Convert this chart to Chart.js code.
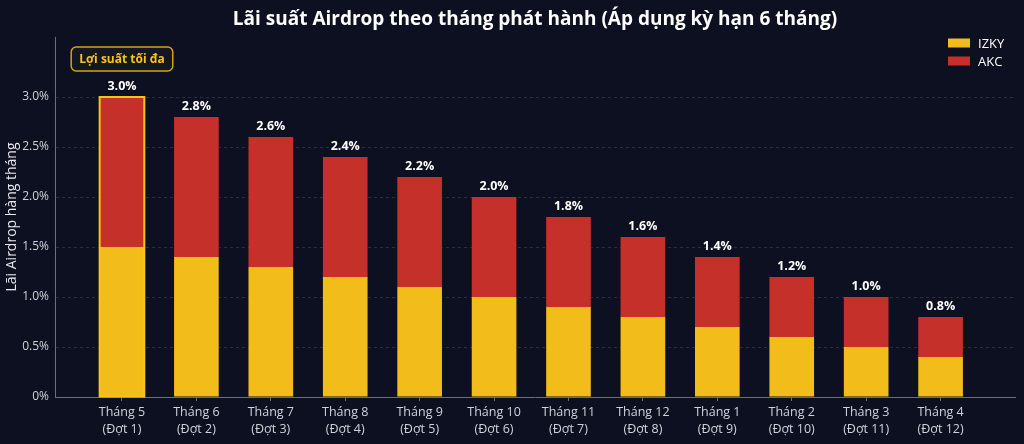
<!DOCTYPE html>
<html lang="vi">
<head>
    <meta charset="UTF-8">
    <title>Lãi suất Airdrop</title>
    <script src="https://cdn.jsdelivr.net/npm/chart.js"></script>
    <style>
        html, body {
            margin: 0;
            padding: 0;
            background: #0c1020;
        }

        #wrap {
            width: 1024px;
            height: 444px;
        }
    </style>
</head>
<body>
    <div id="wrap">
        <canvas id="myChart" width="1024" height="444"></canvas>
    </div>

    <script>
        // adatok
        const months = ["Tháng 5", "Tháng 6", "Tháng 7", "Tháng 8", "Tháng 9", "Tháng 10",
                        "Tháng 11", "Tháng 12", "Tháng 1", "Tháng 2", "Tháng 3", "Tháng 4"];
        const rounds = ["(Đợt 1)", "(Đợt 2)", "(Đợt 3)", "(Đợt 4)", "(Đợt 5)", "(Đợt 6)",
                        "(Đợt 7)", "(Đợt 8)", "(Đợt 9)", "(Đợt 10)", "(Đợt 11)", "(Đợt 12)"];
        const izky = [1.5, 1.4, 1.3, 1.2, 1.1, 1.0, 0.9, 0.8, 0.7, 0.6, 0.5, 0.4];
        const akc = [1.5, 1.4, 1.3, 1.2, 1.1, 1.0, 0.9, 0.8, 0.7, 0.6, 0.5, 0.4];
        const yTicks = [0, 0.5, 1.0, 1.5, 2.0, 2.5, 3.0];
        const seriesNames = ["IZKY", "AKC"];
        const highlightIndex = 0;
        const highlightText = "Lợi suất tối đa";
        const chartTitle = "Lãi suất Airdrop theo tháng phát hành (Áp dụng kỳ hạn 6 tháng)";

        const yellow = '#f2bc1b';
        const red = '#c6302a';
        const gold = '#f5c518';
        const font = "'Open Sans', 'Noto Sans', sans-serif";

        // cím, felső címkék, jelmagyarázat, kiemelés
        const extras = {
            id: 'extras',
            afterDatasetsDraw(chart) {
                const ctx = chart.ctx;
                const xs = chart.scales.x;
                const ys = chart.scales.y;
                const area = chart.chartArea;
                ctx.save();

                // cím
                ctx.fillStyle = '#ffffff';
                ctx.font = "bold 19px " + font;
                ctx.textAlign = 'center';
                ctx.textBaseline = 'middle';
                ctx.fillText(chartTitle, (area.left + area.right) / 2, 20);

                // kiemelt oszlop kerete
                const low = chart.getDatasetMeta(0).data[highlightIndex];
                const high = chart.getDatasetMeta(1).data[highlightIndex];
                ctx.strokeStyle = gold;
                ctx.lineWidth = 2;
                ctx.strokeRect(high.x - high.width / 2, high.y, high.width, low.base - high.y);

                // összeg címkék
                ctx.fillStyle = '#ffffff';
                ctx.font = "bold 12.5px " + font;
                izky.forEach((v, i) => {
                    const total = v + akc[i];
                    ctx.fillText(total.toFixed(1) + '%', xs.getPixelForValue(i), ys.getPixelForValue(total) - 11);
                });

                // "Lợi suất tối đa" doboz
                const hx = xs.getPixelForValue(highlightIndex);
                const hy = 59;
                ctx.font = "bold 12px " + font;
                const tw = ctx.measureText(highlightText).width + 16;
                ctx.beginPath();
                ctx.roundRect(hx - tw / 2, hy - 12, tw, 24, 5);
                ctx.fillStyle = '#141622';
                ctx.fill();
                ctx.strokeStyle = '#d2a417';
                ctx.lineWidth = 1.5;
                ctx.stroke();
                ctx.fillStyle = gold;
                ctx.fillText(highlightText, hx, hy + 1);

                // jelmagyarázat
                const colors = [yellow, red];
                ctx.textAlign = 'left';
                ctx.font = "13px " + font;
                seriesNames.forEach((name, i) => {
                    const cy = 43 + i * 18;
                    ctx.fillStyle = colors[i];
                    ctx.fillRect(948, cy - 4.5, 22, 9);
                    ctx.fillStyle = '#ffffff';
                    ctx.fillText(name, 978, cy + 1);
                });

                ctx.restore();
            }
        };

        const ctx = document.getElementById("myChart").getContext("2d");
        new Chart(ctx, {
            type: 'bar',
            data: {
                datasets: [{
                    label: seriesNames[0],
                    data: izky.map((v, i) => ({ x: i, y: v })),
                    backgroundColor: yellow,
                    borderWidth: 0
                }, {
                    label: seriesNames[1],
                    data: akc.map((v, i) => ({ x: i, y: v })),
                    backgroundColor: red,
                    borderWidth: 0
                }]
            },
            options: {
                responsive: false,
                animation: false,
                barPercentage: 0.6,
                categoryPercentage: 1,
                layout: {
                    padding: { left: 0, right: 9, top: 37, bottom: 0 }
                },
                plugins: {
                    legend: { display: false },
                    tooltip: { enabled: false },
                    title: { display: false }
                },
                scales: {
                    x: {
                        type: 'linear',
                        stacked: true,
                        offset: false,
                        min: -0.9,
                        max: 12,
                        afterBuildTicks: (scale) => {
                            scale.ticks = months.map((_, i) => ({ value: i }));
                        },
                        afterFit: (scale) => { scale.height = 47; },
                        ticks: {
                            color: '#d0d3da',
                            font: { family: font, size: 12.5, lineHeight: 1.35 },
                            padding: 3,
                            maxRotation: 0,
                            autoSkip: false,
                            callback: (value) => [months[value], rounds[value]]
                        },
                        grid: {
                            offset: false,
                            drawOnChartArea: false,
                            drawTicks: true,
                            tickLength: 4,
                            color: '#6b6f7a'
                        },
                        border: { display: true, color: '#6b6f7a' }
                    },
                    y: {
                        stacked: true,
                        min: 0,
                        max: 3.6,
                        afterBuildTicks: (scale) => {
                            scale.ticks = yTicks.map(v => ({ value: v }));
                        },
                        afterFit: (scale) => { scale.width = 55; },
                        ticks: {
                            color: '#d0d3da',
                            font: { family: font, size: 12 },
                            padding: 6,
                            callback: (value) => value === 0 ? '0%' : value.toFixed(1) + '%'
                        },
                        grid: {
                            drawTicks: false,
                            color: 'rgba(255,255,255,0.13)'
                        },
                        border: { display: true, color: '#6b6f7a', dash: [3, 3] },
                        title: {
                            display: true,
                            text: 'Lãi Airdrop hàng tháng',
                            color: '#e6e8ee',
                            font: { family: font, size: 14 },
                            padding: { top: 4, bottom: 0 }
                        }
                    }
                }
            },
            plugins: [extras]
        });
    </script>
</body>
</html>
